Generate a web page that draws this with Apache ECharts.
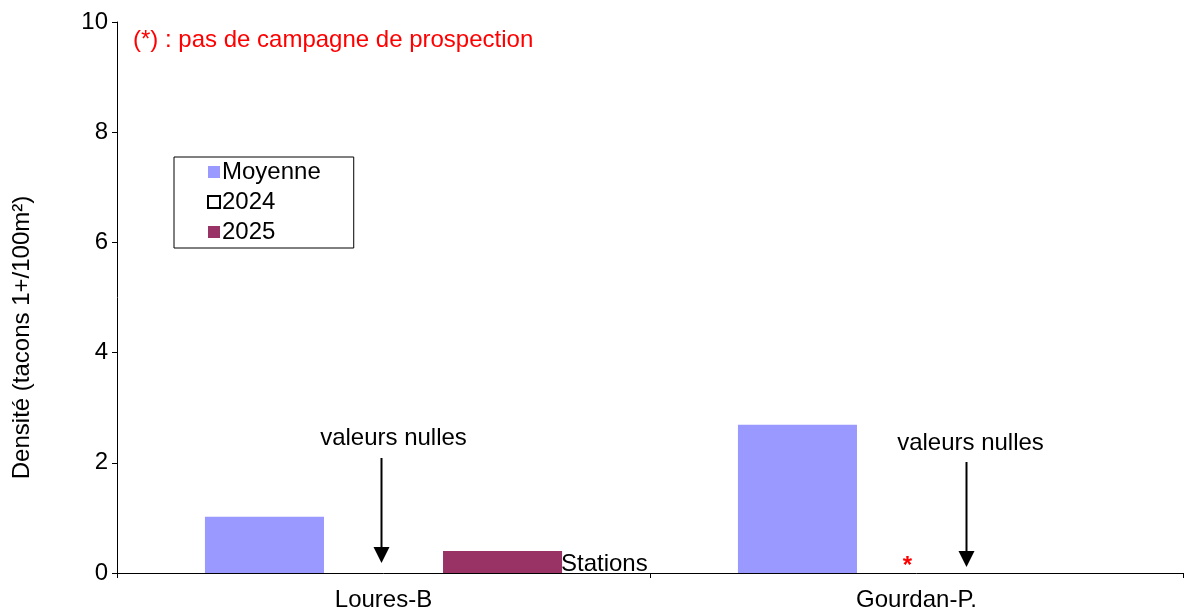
<!DOCTYPE html>
<html lang="fr">
<head>
    <meta charset="UTF-8">
    <title>Densité tacons</title>
    <script src="https://cdn.jsdelivr.net/npm/echarts@6/dist/echarts.min.js"></script>
    <style>
        html, body { margin: 0; padding: 0; background: #fff; }
        #chart { width: 1185px; height: 613px; }
    </style>
</head>
<body>
    <div id="chart"></div>
    <script>
        // données
        const stations = ['Loures-B', 'Gourdan-P.'];
        const moyenne = [1.02, 2.69];
        const val2024 = [0, null];   // null : pas de campagne
        const val2025 = [0.40, 0];
        const yTicks = [0, 2, 4, 6, 8, 10];

        const font = 'Liberation Sans, Arial, sans-serif';
        const fs = 24;
        const chart = echarts.init(document.getElementById('chart'));

        chart.setOption({
            animation: false,
            textStyle: { fontFamily: font },
            grid: { left: 117, right: 2, top: 22, bottom: 40, containLabel: false },
            legend: {
                orient: 'vertical',
                left: 174,
                top: 157,
                padding: [3, 33, 4, 33],
                itemWidth: 12,
                itemHeight: 12,
                itemGap: 6,
                borderColor: '#000',
                borderWidth: 1,
                backgroundColor: '#fff',
                textStyle: { fontSize: fs, color: '#000', fontFamily: font, padding: [0, 0, 0, -3] },
                data: [
                    { name: 'Moyenne', icon: 'rect' },
                    { name: '2024', icon: 'rect', itemStyle: { color: '#fff', borderColor: '#000', borderWidth: 2 } },
                    { name: '2025', icon: 'rect' }
                ]
            },
            xAxis: {
                type: 'category',
                data: stations,
                axisLine: { lineStyle: { color: '#000', width: 1 } },
                axisTick: { show: true, length: 5, lineStyle: { color: '#000' } },
                axisLabel: { fontSize: fs, color: '#000', margin: 15, fontFamily: font },
                splitLine: { show: false }
            },
            yAxis: {
                type: 'value',
                min: yTicks[0],
                max: yTicks[yTicks.length - 1],
                interval: 2,
                name: 'Densité (tacons 1+/100m²)',
                nameLocation: 'middle',
                nameGap: 83,
                nameTextStyle: { fontSize: fs, color: '#000', fontFamily: font, padding: [0, 80, 0, 0] },
                axisLine: { show: true, lineStyle: { color: '#000', width: 1 } },
                axisTick: { show: true, inside: false, length: 5, lineStyle: { color: '#000' } },
                axisLabel: { fontSize: fs, color: '#000', margin: 9, fontFamily: font },
                splitLine: { show: false }
            },
            series: [
                {
                    name: 'Moyenne', type: 'bar', data: moyenne,
                    barGap: '0%', barCategoryGap: '33%',
                    itemStyle: { color: '#9999FF' }
                },
                {
                    name: '2024', type: 'bar', data: val2024,
                    itemStyle: { color: '#fff', borderColor: '#000', borderWidth: 0 }
                },
                {
                    name: '2025', type: 'bar', data: val2025,
                    itemStyle: { color: '#993366' }
                }
            ]
        });

        // annotations placées à partir des positions des catégories
        const y0 = chart.convertToPixel({ yAxisIndex: 0 }, 0);
        const xL = chart.convertToPixel({ xAxisIndex: 0 }, 'Loures-B');
        const xG = chart.convertToPixel({ xAxisIndex: 0 }, 'Gourdan-P.');

        function arrow(x, top, tip) {
            return [
                { type: 'line', shape: { x1: x, y1: top, x2: x, y2: tip - 14 }, style: { stroke: '#000', lineWidth: 2 } },
                { type: 'polygon', shape: { points: [[x - 8, tip - 16], [x + 8, tip - 16], [x, tip]] }, style: { fill: '#000' } }
            ];
        }
        function txt(x, y, text, color, align, size, weight) {
            return {
                type: 'text', x: x, y: y,
                style: { text: text, fill: color, font: (weight || 'normal') + ' ' + size + 'px ' + font, align: align, verticalAlign: 'middle' }
            };
        }

        chart.setOption({
            graphic: [
                txt(133, 40, '(*) : pas de campagne de prospection', '#FF0000', 'left', fs),
                txt(xL + 10, 438, 'valeurs nulles', '#000', 'center', fs),
                ...arrow(xL - 2, 458, y0 - 10),
                txt(xG + 54, 443, 'valeurs nulles', '#000', 'center', fs),
                ...arrow(xG + 50, 462, y0 - 6),
                txt(xG - 9, 566, '*', '#FF0000', 'center', 24, 'bold'),
                txt(561, 564, 'Stations', '#000', 'left', fs)
            ]
        });
    </script>
</body>
</html>
